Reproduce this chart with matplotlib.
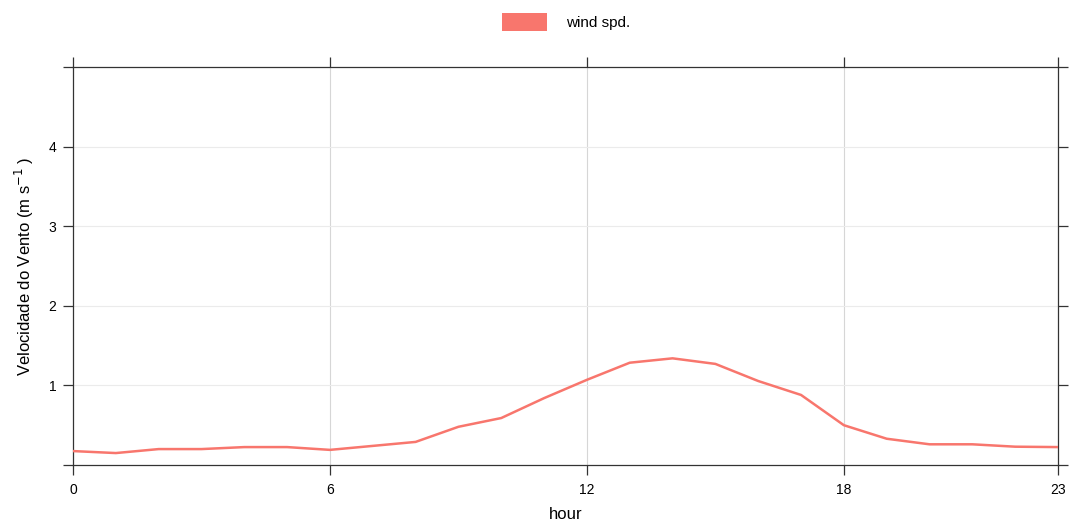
import numpy as np
import matplotlib
matplotlib.use("Agg")
import matplotlib.pyplot as plt
from matplotlib.patches import Patch

plt.rcParams['font.family'] = ['Liberation Sans', 'DejaVu Sans']

hours = list(range(24))
wind_spd = [0.175, 0.15, 0.2, 0.2, 0.225, 0.225, 0.19, 0.24, 0.29,
            0.48, 0.59, 0.84, 1.07, 1.285, 1.34, 1.27, 1.055, 0.88,
            0.50, 0.33, 0.26, 0.26, 0.23, 0.225]
x_ticks = [0, 6, 12, 18, 23]
y_ticks = [0, 1, 2, 3, 4, 5]
y_labels = ['', '1', '2', '3', '4', '']
line_col = '#F8766D'

fig = plt.figure(figsize=(10.7, 5.27), dpi=100)
ax = fig.add_axes([73 / 1070, 62 / 527, 985 / 1070, 398 / 527])

# grid like lattice panel
for h in [6, 12, 18]:
    ax.axvline(h, color='#d6d6d6', lw=0.8, zorder=0)
for v in [1, 2, 3, 4]:
    ax.axhline(v, color='#ebebeb', lw=0.8, zorder=0)

ax.plot(hours, wind_spd, color=line_col, lw=1.8, zorder=3)

ax.set_xlim(0, 23)
ax.set_ylim(0, 5)
ax.set_xticks(x_ticks)
ax.set_xticklabels([str(t) for t in x_ticks])
ax.set_yticks(y_ticks)
ax.set_yticklabels(y_labels)
ax.tick_params(axis='both', direction='out', length=7, width=0.9, color='#333333',
               labelsize=10, top=True, right=True, labeltop=False, labelright=False)
ax.tick_params(axis='x', pad=6)
ax.tick_params(axis='y', pad=5)
for s in ax.spines.values():
    s.set_color('#333333')
    s.set_linewidth(0.9)

ax.set_xlabel('hour', fontsize=12, labelpad=7)
ax.set_ylabel('Velocidade do Vento (m s$^{-1}$ )', fontsize=12, labelpad=9)

handles = [Patch(facecolor=line_col, edgecolor='none', label='wind spd.')]
fig.legend(handles=handles, loc='center', bbox_to_anchor=(0.529, 0.958), frameon=False,
           fontsize=11, handlelength=2.95, handleheight=1.4, handletextpad=1.2)

fig.savefig('out.png', dpi=100)
